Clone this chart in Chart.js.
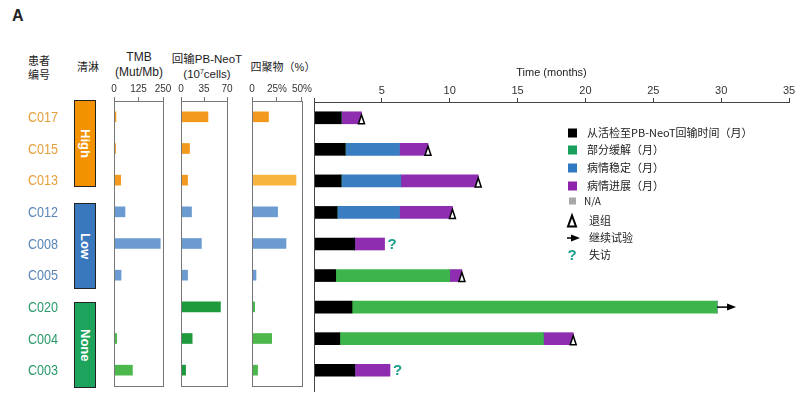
<!DOCTYPE html>
<html>
<head>
<meta charset="utf-8">
<script src="https://cdn.jsdelivr.net/npm/chart.js@4.4.0/dist/chart.umd.min.js"></script>
<style>
  body { margin: 0; background: #fff; }
  #fig { position: relative; width: 800px; height: 396px; overflow: hidden; color: #222;
         font-family: 'Liberation Sans', 'Noto Sans CJK SC', sans-serif; }
  .wrap { position: absolute; top: 0; height: 396px; }
  .hdr { position: absolute; font-size: 11px; line-height: 14px; text-align: center;
         transform: translateX(-50%); white-space: nowrap; }
  .hdr sup { font-size: 7px; line-height: 0; vertical-align: 4px; }
  .grp { position: absolute; left: 74px; width: 20px; border: 1.5px solid #222; color: #fff;
         font-weight: bold; font-size: 13px; writing-mode: vertical-rl;
         display: flex; align-items: center; justify-content: center; }
</style>
</head>
<body>
<div id="fig">
  <div class="hdr" style="left:12px;top:9px;font-size:16px;font-weight:bold;transform:none;">A</div>
  <div class="hdr" style="left:39px;top:54px;">患者<br>编号</div>
  <div class="hdr" style="left:88px;top:60px;">清淋</div>
  <div class="hdr" style="left:139px;top:50px;font-size:12px;line-height:15px;">TMB<br>(Mut/Mb)</div>
  <div class="hdr" style="left:207px;top:52px;font-size:11.5px;line-height:15px;">回输PB-NeoT<br>(10<sup>7</sup>cells)</div>
  <div class="hdr" style="left:283px;top:60px;">四聚物（%）</div>

  <div class="grp" style="top:100px;height:85px;background:#F39200;">High</div>
  <div class="grp" style="top:203px;height:84px;background:#3A78BD;">Low</div>
  <div class="grp" style="top:302px;height:84px;background:#1EA35C;">None</div>

  <div class="wrap" style="left:0;width:174px;"><canvas id="tmbChart"></canvas></div>
  <div class="wrap" style="left:172px;width:68px;"><canvas id="neoTChart"></canvas></div>
  <div class="wrap" style="left:238px;width:76px;"><canvas id="tetramerChart"></canvas></div>
  <div class="wrap" style="left:300px;width:500px;"><canvas id="timeChart"></canvas></div>
</div>

<script>
const patients = ['C017', 'C015', 'C013', 'C012', 'C008', 'C005', 'C020', 'C004', 'C003'];
const groups = ['High', 'High', 'High', 'Low', 'Low', 'Low', 'None', 'None', 'None'];

const tmb = [10, 8, 34, 56, 236, 36, 3, 14, 94];
const neoT = [41, 13, 10, 16, 31, 10, 60, 17, 7];
const tetramer = [16.5, 0, 44, 25.6, 34, 4, 2.7, 19.7, 5.6];

const tmbTicks = [0, 125, 250];
const neoTTicks = [0, 35, 70];
const tetramerTicks = [0, 25, 50];
const timeTicks = [0, 5, 10, 15, 20, 25, 30, 35];

// months per phase, stacked left to right
const biopsyToInfusion = [2.0, 2.3, 2.0, 1.7, 3.0, 1.6, 2.8, 1.9, 3.0];
const partialResponse = [0, 0, 0, 0, 0, 8.4, 26.9, 15.0, 0];
const stableDisease = [0, 4.0, 4.4, 4.6, 0, 0, 0, 0, 0];
const progressiveDisease = [1.5, 2.1, 5.7, 3.9, 2.2, 0.9, 0, 2.2, 2.6];
const outcome = ['withdrawn', 'withdrawn', 'withdrawn', 'withdrawn', 'lost', 'withdrawn', 'ongoing', 'withdrawn', 'lost'];

const phaseLabels = ['从活检至PB-NeoT回输时间（月）', '部分缓解（月）', '病情稳定（月）', '病情进展（月）', 'N/A'];
const markerLabels = ['退组', '继续试验', '失访'];

const idColors = { High: '#E6A03C', Low: '#5A86B8', None: '#2B9B69' };
const tmbColors = { High: '#F39A1E', Low: '#6B9BD0', None: '#4CB84C' };
const neoTColors = { High: '#F39A1E', Low: '#6B9BD0', None: '#1E9A3C' };
const tetramerColors = ['#F39A1E', '#F39A1E', '#F7B43E', '#6B9BD0', '#6B9BD0', '#6B9BD0', '#4CB84C', '#4CB84C', '#4CB84C'];
const phaseColors = ['#000000', '#3DB54A', '#3A7DC0', '#8E2DB0', '#A0A0A0'];
const legendColors = ['#000000', '#17A05D', '#2F78C2', '#8E24AA', '#A8A8A8'];

const narrow = "'Liberation Sans Narrow', 'Liberation Sans', Arial, sans-serif";
Chart.defaults.font.family = narrow;
Chart.defaults.color = '#333';

const panelBox = {
  id: 'panelBox',
  afterDraw(chart) {
    const { ctx, chartArea: a } = chart;
    ctx.save();
    ctx.strokeStyle = '#777';
    ctx.lineWidth = 1;
    ctx.strokeRect(Math.round(a.left) + 0.5, Math.round(a.top) + 0.5, Math.round(a.width), Math.round(a.height));
    ctx.restore();
  }
};

// patient ids, placed on the rows of the y scale
const patientIds = {
  id: 'patientIds',
  afterDraw(chart) {
    const { ctx, scales: { y } } = chart;
    ctx.save();
    ctx.font = '15px ' + narrow;
    ctx.textAlign = 'right';
    ctx.textBaseline = 'middle';
    patients.forEach((p, i) => {
      ctx.save();
      ctx.translate(58, y.getPixelForValue(i) + 1);
      ctx.scale(0.84, 1);
      ctx.fillStyle = idColors[groups[i]];
      ctx.fillText(p, 0, 0);
      ctx.restore();
    });
    ctx.restore();
  }
};

function makePanel(id, values, colors, ticks, padding, extraPlugins, tickFormat) {
  return new Chart(document.getElementById(id), {
    type: 'bar',
    data: {
      labels: patients,
      datasets: [{ data: values, backgroundColor: colors, barThickness: 10 }]
    },
    options: {
      indexAxis: 'y',
      responsive: true,
      maintainAspectRatio: false,
      animation: false,
      layout: { padding: padding },
      plugins: { legend: { display: false }, tooltip: { enabled: false } },
      scales: {
        x: {
          position: 'top',
          min: ticks[0],
          max: ticks[ticks.length - 1],
          ticks: { stepSize: ticks[1] - ticks[0], font: { size: 10 }, padding: 2, maxRotation: 0,
                   callback: tickFormat || (v => v) },
          grid: { drawOnChartArea: false, tickLength: 4, color: '#777' },
          border: { color: '#777' },
          afterFit: s => { s.height = 101; }
        },
        y: { display: false }
      }
    },
    plugins: [panelBox].concat(extraPlugins || [])
  });
}

makePanel('tmbChart', tmb, groups.map(g => tmbColors[g]), tmbTicks,
  { left: 114, right: 11, top: 0, bottom: 10 }, [patientIds]);

makePanel('neoTChart', neoT, groups.map(g => neoTColors[g]), neoTTicks,
  { left: 9, right: 13, top: 0, bottom: 10 });

makePanel('tetramerChart', tetramer, tetramerColors, tetramerTicks,
  { left: 14, right: 11, top: 0, bottom: 10 }, null,
  v => v === 0 ? '0' : v + '%');

function drawMarker(ctx, type, px, py, big) {
  ctx.save();
  if (type === 'withdrawn') {
    const h = big ? 5.5 : 4.5;
    const w = big ? 4 : 3;
    const dy = big ? 0 : 1.5;
    ctx.beginPath();
    ctx.moveTo(px, py - h + dy);
    ctx.lineTo(px - w, py + h + dy);
    ctx.lineTo(px + w, py + h + dy);
    ctx.closePath();
    ctx.fillStyle = '#fff';
    ctx.fill();
    ctx.strokeStyle = '#000';
    ctx.lineWidth = big ? 2 : 1.5;
    ctx.stroke();
  } else if (type === 'ongoing') {
    const len = big ? 13 : 19;
    ctx.strokeStyle = '#000';
    ctx.fillStyle = '#000';
    ctx.lineWidth = 1.5;
    ctx.beginPath();
    ctx.moveTo(px, py);
    ctx.lineTo(px + len - 6, py);
    ctx.stroke();
    ctx.beginPath();
    ctx.moveTo(px + len, py);
    ctx.lineTo(px + len - 9, py - 3.5);
    ctx.lineTo(px + len - 9, py + 3.5);
    ctx.closePath();
    ctx.fill();
  } else if (type === 'lost') {
    ctx.fillStyle = '#1B9C8A';
    ctx.font = 'bold 15px ' + narrow;
    ctx.textAlign = big ? 'center' : 'left';
    ctx.textBaseline = 'middle';
    ctx.fillText('?', big ? px : px + 3, py + 1);
  }
  ctx.restore();
}

const markers = {
  id: 'markers',
  afterDatasetsDraw(chart) {
    const { ctx, scales: { x, y } } = chart;
    patients.forEach((p, i) => {
      const total = biopsyToInfusion[i] + partialResponse[i] + stableDisease[i] + progressiveDisease[i];
      drawMarker(ctx, outcome[i], x.getPixelForValue(total), y.getPixelForValue(i), false);
    });

    // left axis line
    const a = chart.chartArea;
    ctx.save();
    ctx.strokeStyle = '#444';
    ctx.lineWidth = 1;
    ctx.beginPath();
    ctx.moveTo(Math.round(a.left) + 0.5, a.top);
    ctx.lineTo(Math.round(a.left) + 0.5, a.bottom + 6);
    ctx.stroke();
    ctx.restore();
  }
};

const legend = {
  id: 'phaseLegend',
  afterDraw(chart) {
    const ctx = chart.ctx;
    const lx = 268;
    const rows = [133, 150, 168, 186, 201];
    ctx.save();
    ctx.textBaseline = 'middle';
    phaseLabels.forEach((label, i) => {
      const s = i === 4 ? 7 : 9;
      ctx.fillStyle = legendColors[i];
      ctx.fillRect(lx + (9 - s) / 2, rows[i] - s / 2, s, s);
      ctx.fillStyle = '#222';
      ctx.font = (i === 4 ? '10px ' : '11px ') + "'Noto Sans CJK SC', sans-serif";
      ctx.fillText(label, i === 4 ? lx + 16 : lx + 19, rows[i]);
    });
    const mRows = [221, 238, 255];
    const mTypes = ['withdrawn', 'ongoing', 'lost'];
    markerLabels.forEach((label, i) => {
      drawMarker(ctx, mTypes[i], mTypes[i] === 'ongoing' ? lx - 1 : lx + 4, mRows[i], true);
      ctx.fillStyle = '#222';
      ctx.font = "11px 'Noto Sans CJK SC', sans-serif";
      ctx.fillText(label, lx + 21, mRows[i]);
    });
    ctx.restore();
  }
};

const phaseData = [biopsyToInfusion, partialResponse, stableDisease, progressiveDisease];

new Chart(document.getElementById('timeChart'), {
  type: 'bar',
  data: {
    labels: patients,
    datasets: phaseData.map((d, i) => ({
      label: phaseLabels[i],
      data: d,
      backgroundColor: phaseColors[i],
      barThickness: 12
    }))
  },
  options: {
    indexAxis: 'y',
    responsive: true,
    maintainAspectRatio: false,
    animation: false,
    layout: { padding: { left: 14, right: 11, top: 60, bottom: 10 } },
    plugins: { legend: { display: false }, tooltip: { enabled: false } },
    scales: {
      x: {
        position: 'top',
        stacked: true,
        min: timeTicks[0],
        max: timeTicks[timeTicks.length - 1],
        ticks: { stepSize: timeTicks[1] - timeTicks[0], font: { size: 11 }, padding: 0, maxRotation: 0,
                 callback: v => v === 0 ? '' : v },
        grid: { drawOnChartArea: false, tickLength: 4, color: '#444' },
        border: { color: '#444' },
        title: { display: true, text: 'Time (months)', font: { size: 11 }, color: '#222', padding: { top: 6, bottom: 4 } },
        afterFit: s => { s.height = 42; }
      },
      y: { display: false, stacked: true }
    }
  },
  plugins: [markers, legend]
});
</script>
</body>
</html>
